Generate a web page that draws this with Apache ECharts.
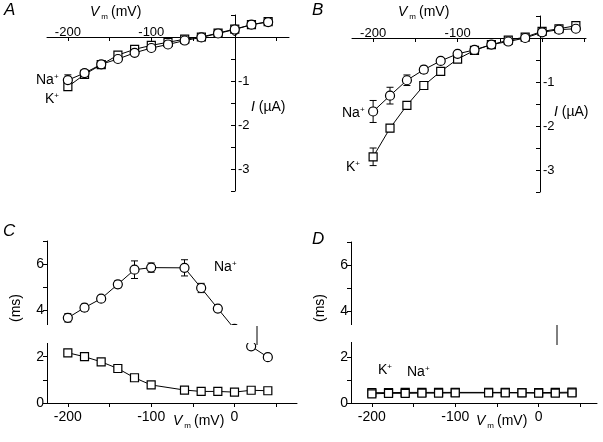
<!DOCTYPE html>
<html><head><meta charset="utf-8">
<script src="https://cdn.jsdelivr.net/npm/echarts@6/dist/echarts.min.js"></script>
<style>html,body{margin:0;padding:0;background:#fff}#c{width:603px;height:442px}</style>
</head><body><div id="c"></div>
<script>
// ---- data ----
const vAB = [-200,-180,-160,-140,-120,-100,-80,-60,-40,-20,0,20,40];
const naA = [-0.98,-0.82,-0.62,-0.50,-0.36,-0.25,-0.17,-0.08,-0.01,0.08,0.17,0.28,0.34];
const naAErr = [0.12,0.05,0.04,0.04,0.04,0.04,0.03,0.03,0.03,0.03,0.03,0.03,0.03];
const kA = [-1.13,-0.85,-0.63,-0.41,-0.28,-0.19,-0.12,-0.05,0.0,0.09,0.18,0.28,0.35];
const kAErr = [0.07,0.05,0.04,0.04,0.04,0.04,0.03,0.03,0.03,0.03,0.03,0.03,0.03];

const naB = [-1.67,-1.31,-0.96,-0.72,-0.52,-0.36,-0.27,-0.15,-0.08,0.0,0.13,0.19,0.21];
const naBErr = [0.25,0.19,0.12,0.08,0.05,0.05,0.04,0.03,0.03,0.03,0.03,0.03,0.04];
const kB = [-2.70,-2.05,-1.53,-1.08,-0.76,-0.48,-0.28,-0.15,-0.05,0.02,0.15,0.21,0.28];
const kBErr = [0.20,0.08,0.05,0.04,0.04,0.04,0.04,0.03,0.03,0.03,0.03,0.04,0.04];

const vCD = [-200,-180,-160,-140,-120,-100,-60,-40,-20,0,20,40];
const naC = [3.68,4.12,4.51,5.13,5.76,5.85,5.84,4.97,4.08,3.2,2.45,1.98];
const naCErr = [0.18,0.15,0.12,0.15,0.38,0.2,0.35,0.2,0.1,0.1,0.08,0.05];
const kC = [2.17,2.0,1.78,1.49,1.09,0.78,0.56,0.5,0.5,0.47,0.55,0.53];
const kCErr = [0.12,0.08,0.08,0.08,0.1,0.06,0.05,0.05,0.05,0.05,0.04,0.04];
const naD = [0.45,0.45,0.46,0.46,0.46,0.46,0.46,0.46,0.45,0.45,0.46,0.47];
const kD = [0.40,0.42,0.42,0.43,0.43,0.44,0.44,0.44,0.44,0.43,0.43,0.44];

const vTicks = [-200,-150,-100,-50,0,50];
const vLabels = [-200,-100,0];
const iTicks = [0.5,0,-0.5,-1,-1.5,-2,-2.5,-3,-3.5];
const iLabels = [-1,-2,-3];
const tTicks = [0,1,2,3,4,5,6,7];
const tLabels = [0,2,4,6];

// ---- helpers ----
const FONT = 'Liberation Sans, Arial, sans-serif';
const grids = [
  {left:47, top:15, width:242, height:176},
  {left:352, top:16, width:234, height:176},
  {left:47, top:241, width:250, height:162},
  {left:351, top:242, width:246, height:161}
];
const axLine = {lineStyle:{color:'#000', width:1}};
function xAx(g, min, max, top, off) {
  return {type:'value', gridIndex:g, min:min, max:max, position: top ? 'top' : 'bottom', offset: off||0,
    axisLine: Object.assign({onZero:false}, axLine),
    axisTick:{show:true, inside: !!top, length:4, customValues:vTicks, lineStyle:{color:'#000'}},
    axisLabel:{customValues:vLabels, color:'#000', fontFamily:FONT, fontSize: top?13:14, margin: top?-2:7},
    splitLine:{show:false}};
}
function yAxI(g, off) {
  return {type:'value', gridIndex:g, min:-3.5, max:0.5, position:'right', offset: off,
    axisLine: Object.assign({onZero:false}, axLine),
    axisTick:{show:true, inside:true, length:4, customValues:iTicks, lineStyle:{color:'#000'}},
    axisLabel:{customValues:iLabels, color:'#000', fontFamily:FONT, fontSize:13, margin:3},
    splitLine:{show:false}};
}
function yAxT(g) {
  return {type:'value', gridIndex:g, min:0, max:7,
    axisLine: Object.assign({onZero:false}, axLine),
    axisTick:{show:true, length:4, customValues:tTicks, lineStyle:{color:'#000'}},
    axisLabel:{customValues:tLabels, color:'#000', fontFamily:FONT, fontSize:14, margin:3},
    splitLine:{show:false}};
}
function lineS(g, xs, ys, sym) {
  return {type:'line', xAxisIndex:g, yAxisIndex:g, data: xs.map((x,i)=>[x, ys[i]]),
    symbol: sym, symbolSize: sym==='rect' ? 8 : 9, showSymbol:true, z:3,
    lineStyle:{color:'#000', width:1}, itemStyle:{color:'#fff', borderColor:'#000', borderWidth:1.2},
    animation:false, silent:true};
}
function errS(g, xs, ys, es) {
  return {type:'custom', xAxisIndex:g, yAxisIndex:g, z:2, silent:true, animation:false,
    data: xs.map((x,i)=>[x, ys[i]-es[i], ys[i]+es[i]]),
    encode:{x:0, y:[1,2]},
    renderItem: function(params, api) {
      const lo = api.coord([api.value(0), api.value(1)]);
      const hi = api.coord([api.value(0), api.value(2)]);
      const w = 3.5, st = {stroke:'#000', lineWidth:1};
      return {type:'group', children:[
        {type:'line', shape:{x1:lo[0], y1:lo[1], x2:hi[0], y2:hi[1]}, style:st},
        {type:'line', shape:{x1:lo[0]-w, y1:lo[1], x2:lo[0]+w, y2:lo[1]}, style:st},
        {type:'line', shape:{x1:hi[0]-w, y1:hi[1], x2:hi[0]+w, y2:hi[1]}, style:st}
      ]};
    }};
}
function txt(x, y, text, rich, extra) {
  return Object.assign({type:'text', left:x, top:y, z:200,
    style:{text:text, fill:'#000', font:'14px ' + FONT, rich:rich}}, extra||{});
}
const ionRich = {b:{fontSize:14, fontFamily:FONT, fill:'#000'}, s:{fontSize:8, fontFamily:FONT, fill:'#000', verticalAlign:'top', padding:[0,0,7,0]}};
const vmRich = {v:{fontSize:14, fontStyle:'italic', fontFamily:FONT, fill:'#000'}, m:{fontSize:8, fontFamily:FONT, fill:'#000', padding:[9,3,0,2]}, t:{fontSize:14, fontFamily:FONT, fill:'#000'}};
const iRich = {i:{fontSize:14, fontStyle:'italic', fontFamily:FONT, fill:'#000'}, t:{fontSize:14, fontFamily:FONT, fill:'#000'}};
function letter(x, y, L) {
  return {type:'text', left:x, top:y, z:200, style:{text:L, fill:'#000', font:'italic 17px ' + FONT}};
}

const chart = echarts.init(document.getElementById('c'), null, {renderer:'canvas'});
chart.setOption({
  animation:false,
  backgroundColor:'#fff',
  grid: grids,
  xAxis: [xAx(0,-225,65,true,-22), xAx(1,-225,52,true,-22), xAx(2,-225,75,false), xAx(3,-225,70,false)],
  yAxis: [yAxI(0,-54), yAxI(1,-46), yAxT(2), yAxT(3)],
  series: [
    errS(0, vAB, naA, naAErr), errS(0, vAB, kA, kAErr),
    lineS(0, vAB, kA, 'rect'), lineS(0, vAB, naA, 'circle'),
    errS(1, vAB, naB, naBErr), errS(1, vAB, kB, kBErr),
    lineS(1, vAB, kB, 'rect'), lineS(1, vAB, naB, 'circle'),
    errS(2, vCD, naC, naCErr), errS(2, vCD, kC, kCErr),
    lineS(2, vCD, kC, 'rect'), lineS(2, vCD, naC, 'circle'),
    lineS(3, vCD, naD, 'rect'), lineS(3, vCD, kD, 'rect')
  ],
  graphic: [
    // scan gaps across the lower panels
    {type:'rect', z:150, shape:{x:30, y:325, width:258, height:18}, style:{fill:'#fff'}},
    {type:'rect', z:150, shape:{x:335, y:325, width:268, height:17}, style:{fill:'#fff'}},
    {type:'line', z:160, shape:{x1:257, y1:326, x2:257, y2:345}, style:{stroke:'#000', lineWidth:1}},
    {type:'line', z:160, shape:{x1:557, y1:325, x2:557, y2:345}, style:{stroke:'#000', lineWidth:1}},
    letter(4, 2, 'A'), letter(312, 2, 'B'), letter(3, 223, 'C'), letter(312, 231, 'D'),
    txt(90, 5, '{v|V}{m|m}{t|(mV)}', vmRich),
    txt(398, 5, '{v|V}{m|m}{t|(mV)}', vmRich),
    txt(173, 414, '{v|V}{m|m}{t|(mV)}', vmRich),
    txt(476, 414, '{v|V}{m|m}{t|(mV)}', vmRich),
    txt(251, 100, '{i|I} {t|(µA)}', iRich),
    txt(554, 105, '{i|I} {t|(µA)}', iRich),
    {type:'text', z:200, x:9, y:322, rotation:Math.PI/2, style:{text:'(ms)', fill:'#000', font:'14px ' + FONT}},
    {type:'text', z:200, x:313, y:322, rotation:Math.PI/2, style:{text:'(ms)', fill:'#000', font:'14px ' + FONT}},
    txt(36, 73, '{b|Na}{s|+}', ionRich),
    txt(45, 92, '{b|K}{s|+}', ionRich),
    txt(342, 106, '{b|Na}{s|+}', ionRich),
    txt(346, 160, '{b|K}{s|+}', ionRich),
    txt(214, 260, '{b|Na}{s|+}', ionRich),
    txt(378, 363, '{b|K}{s|+}', ionRich),
    txt(407, 365, '{b|Na}{s|+}', ionRich)
  ]
});
</script>
</body></html>
